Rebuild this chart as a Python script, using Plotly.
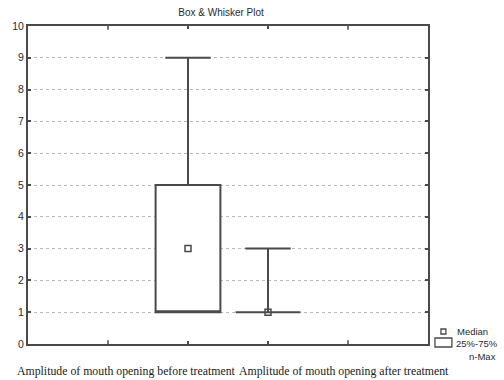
import plotly.graph_objects as go

categories = ["Amplitude of mouth opening before treatment",
              "Amplitude of mouth opening after treatment"]
q1 = [1, 1]
median = [3, 1]
q3 = [5, 1]
minimum = [1, 1]
maximum = [9, 3]
y_ticks = list(range(0, 11))
legend_labels = ["Median", "25%-75%", "n-Max"]

W, H = 504, 380
L, R, T, B = 26, 428, 26, 344
PW, PH = R - L, B - T

def px(x):
    return (x - L) / PW

def py(y):
    return (B - y) / PH

LINE = "#4a4a4a"
TXT = "#2a2a2a"

fig = go.Figure()
fig.add_trace(go.Box(
    x=categories, q1=q1, median=q1, q3=q3,
    lowerfence=minimum, upperfence=maximum,
    fillcolor="white", line=dict(color=LINE, width=2),
    whiskerwidth=0.7, width=0.81, boxpoints=False,
    showlegend=False, hoverinfo="skip",
))
fig.add_trace(go.Scatter(
    x=categories, y=median, mode="markers",
    marker=dict(symbol="square-open", size=6, color=LINE, line=dict(width=1.5)),
    showlegend=False, hoverinfo="skip",
))

shapes = []
for xv in (-1, 2):
    shapes.append(dict(type="line", xref="x", yref="paper", x0=xv, x1=xv, y0=0, y1=0.012,
                       line=dict(color=LINE, width=1.5)))
    shapes.append(dict(type="line", xref="x", yref="paper", x0=xv, x1=xv, y0=1, y1=0.988,
                       line=dict(color=LINE, width=1.5)))
shapes.append(dict(type="rect", xref="paper", yref="paper",
                   x0=px(441), x1=px(446), y0=py(334), y1=py(329),
                   line=dict(color=LINE, width=1.3)))
shapes.append(dict(type="rect", xref="paper", yref="paper",
                   x0=px(435), x1=px(452), y0=py(347), y1=py(338),
                   line=dict(color=LINE, width=1.3)))

annotations = []
label_x = [125, 344]
for lab, cx in zip(categories, label_x):
    annotations.append(dict(text=lab, xref="paper", yref="paper", x=px(cx), y=py(371),
                            xanchor="center", yanchor="middle", showarrow=False,
                            font=dict(family="Liberation Serif", size=11.8, color="#1a1a1a")))
leg_pos = [(455, 331), (454, 343), (467, 356)]
for lab, (lx, ly) in zip(legend_labels, leg_pos):
    annotations.append(dict(text=lab, xref="paper", yref="paper", x=px(lx), y=py(ly),
                            xanchor="left", yanchor="middle", showarrow=False,
                            font=dict(family="Liberation Sans", size=9.5, color=TXT)))

fig.update_layout(
    width=W, height=H,
    margin=dict(l=L, r=W - R, t=T, b=H - B, pad=0),
    paper_bgcolor="white", plot_bgcolor="white",
    title=dict(text="Box & Whisker Plot", x=px(220), xref="paper", xanchor="center",
               y=1 - 12 / H, yanchor="middle",
               font=dict(family="Liberation Sans", size=10, color=TXT)),
    xaxis=dict(type="category", range=[-2, 3], showticklabels=False,
               showline=True, linecolor=LINE, linewidth=2, mirror="ticks",
               ticks="inside", ticklen=3, tickcolor=LINE, tickwidth=1.5,
               showgrid=False, zeroline=False, fixedrange=True),
    yaxis=dict(range=[0, 10], tickvals=y_ticks, showline=True, linecolor=LINE, linewidth=2,
               mirror="ticks", ticks="inside", ticklen=3, tickcolor=LINE, tickwidth=1.5,
               showgrid=True, gridcolor="#b8b8b8", griddash="dot", gridwidth=1,
               zeroline=False,
               tickfont=dict(family="Liberation Sans", size=10.5, color=TXT)),
    shapes=shapes, annotations=annotations,
)

fig.write_html("out.html")
